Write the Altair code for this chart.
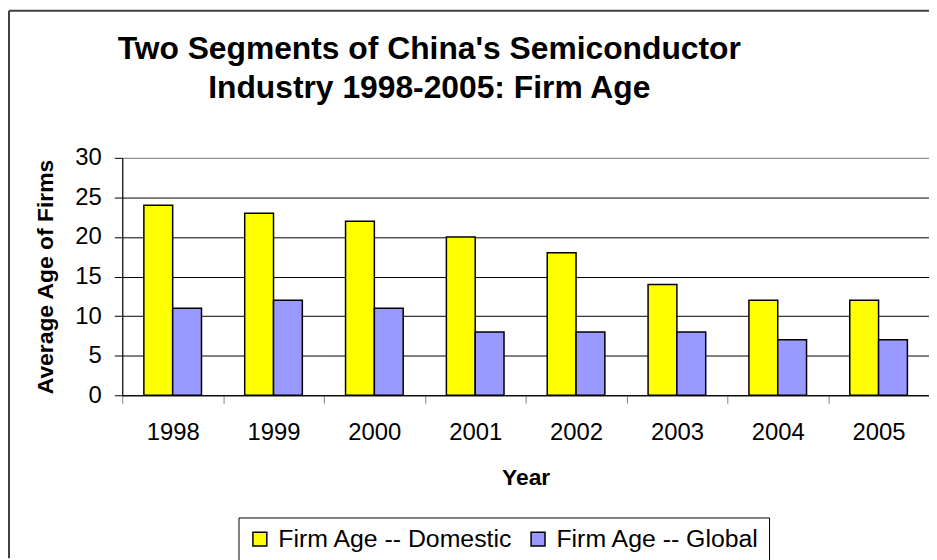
import altair as alt
import pandas as pd

years = ["1998", "1999", "2000", "2001", "2002", "2003", "2004", "2005"]
domestic = [24, 23, 22, 20, 18, 14, 12, 12]
global_ = [11, 12, 11, 8, 8, 8, 7, 7]
series_names = ["Firm Age -- Domestic", "Firm Age -- Global"]
series_colors = ["#FFFF00", "#9999FF"]

rows = []
for i, y in enumerate(years):
    rows.append({"Year": y, "Series": series_names[0], "Age": domestic[i]})
    rows.append({"Year": y, "Series": series_names[1], "Age": global_[i]})
df = pd.DataFrame(rows)

FONT = "Liberation Sans"
PLOT_W, PLOT_H = 812, 239
PAD_L, PAD_T = 115, 149
TOTAL_H = 552

bars = alt.Chart(df).mark_bar(stroke="black", strokeWidth=1.5).encode(
    x=alt.X("Year:N", sort=years,
            scale=alt.Scale(paddingInner=0, paddingOuter=0),
            axis=alt.Axis(title="Year", labelAngle=0, tickBand="extent",
                          labelFontSize=24, labelPadding=18, labelColor="black",
                          tickSize=8, tickColor="#808080", tickWidth=1,
                          domainColor="black", domainWidth=1.2,
                          titleFontSize=23, titleFontWeight="bold", titlePadding=22,
                          titleColor="black", grid=False)),
    xOffset=alt.XOffset("Series:N", sort=series_names,
                        scale=alt.Scale(paddingInner=0, paddingOuter=0.75)),
    y=alt.Y("Age:Q", scale=alt.Scale(domain=[0, 30], nice=False),
            axis=alt.Axis(title="Average Age of Firms", values=[0, 5, 10, 15, 20, 25, 30],
                          labelFontSize=24, labelPadding=13, labelColor="black",
                          tickSize=8, tickColor="black", tickWidth=1,
                          domainColor="black", domainWidth=1.2,
                          grid=True,
                          gridColor={"condition": {"test": "datum.value === 30", "value": "#808080"},
                                     "value": "#000000"},
                          gridWidth=1,
                          titleFontSize=23, titleFontWeight="bold", titlePadding=18,
                          titleColor="black")),
    color=alt.Color("Series:N", sort=series_names,
                    scale=alt.Scale(domain=series_names, range=series_colors),
                    legend=alt.Legend(title=None, orient="none", direction="horizontal",
                                      legendX=117, legendY=362,
                                      labelFontSize=25, labelColor="black", labelLimit=400,
                                      symbolType="square", symbolSize=196,
                                      symbolStrokeColor="black", symbolStrokeWidth=1.5,
                                      symbolOpacity=1, symbolOffset=0,
                                      labelOffset=6, columnPadding=12,
                                      padding=9, strokeColor="black", fillColor="white")),
)

frame_df = pd.DataFrame({"k": [0]})
frame_left = alt.Chart(frame_df).mark_rule(color="#404040", strokeWidth=2).encode(
    x=alt.value(-PAD_L + 1), y=alt.value(-PAD_T + 1), y2=alt.value(TOTAL_H - PAD_T))
frame_top = alt.Chart(frame_df).mark_rule(color="#404040", strokeWidth=2).encode(
    x=alt.value(-PAD_L + 1), x2=alt.value(PLOT_W + 10), y=alt.value(-PAD_T + 1))

chart = alt.layer(bars, frame_left, frame_top).properties(
    width=PLOT_W, height=PLOT_H,
    autosize=alt.AutoSizeParams(type="none"),
    padding={"left": PAD_L, "top": PAD_T, "right": 0, "bottom": TOTAL_H - PAD_T - PLOT_H},
    title=alt.TitleParams(
        text=["Two Segments of China's Semiconductor", "Industry 1998-2005: Firm Age"],
        fontSize=32, fontWeight="bold", font=FONT, color="black",
        lineHeight=39, anchor="middle", baseline="bottom", dx=-97, offset=-128),
    background="white",
).configure_view(
    fill="#C0C0C0", stroke="#808080", strokeWidth=1.5
).configure(
    font=FONT
)

chart.save("out.html", embed_options={"renderer": "svg", "actions": False})
